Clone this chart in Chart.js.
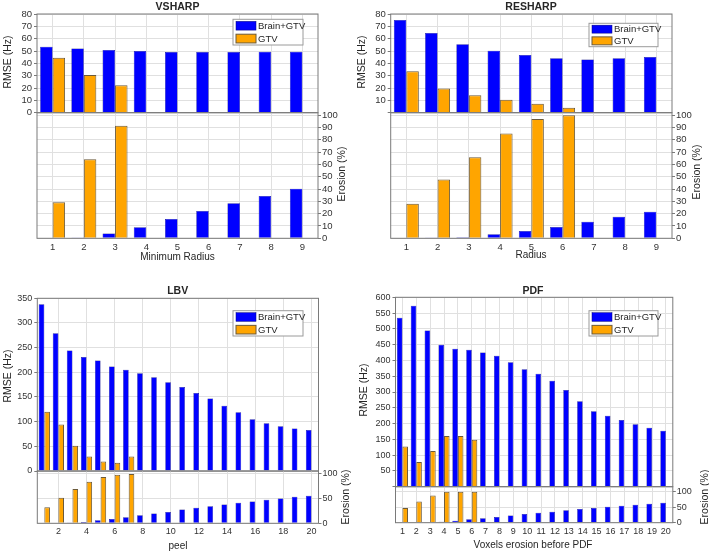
<!DOCTYPE html>
<html>
<head>
<meta charset="utf-8">
<script src="https://cdn.jsdelivr.net/npm/chart.js@4.4.0/dist/chart.umd.min.js"></script>
<style>
    html, body { margin: 0; padding: 0; background: #ffffff; }
    #page { position: relative; width: 709px; height: 552px; overflow: hidden; }
    #page canvas { position: absolute; left: 0; top: 0; }
</style>
</head>
<body>
<div id="page"></div>
<script>
// Datos
const vsharpLabels = ['1', '2', '3', '4', '5', '6', '7', '8', '9'];
const vsharpRmseBrain = [53.5, 52.0, 50.8, 50.0, 49.3, 49.3, 49.3, 49.5, 49.5];
const vsharpRmseGtv = [44.5, 30.5, 22.3, null, null, null, null, null, null];
const vsharpErosionBrain = [0, 0.7, 3.8, 8.9, 15.7, 22.2, 28.4, 34.3, 40.3];
const vsharpErosionGtv = [29.3, 64.2, 91.4, null, null, null, null, null, null];

const resharpLabels = ['1', '2', '3', '4', '5', '6', '7', '8', '9'];
const resharpRmseBrain = [75.1, 64.6, 55.5, 50.2, 46.8, 44.1, 43.2, 44.1, 45.1];
const resharpRmseGtv = [33.5, 19.7, 14.2, 10.5, 7.3, 4.0, null, null, null];
const resharpErosionBrain = [0, 0.2, 0.8, 3.2, 5.9, 9.2, 13.5, 17.6, 21.6];
const resharpErosionGtv = [28.1, 47.8, 65.9, 85.1, 96.8, 100, null, null, null];

const lbvLabels = ['1', '2', '3', '4', '5', '6', '7', '8', '9', '10',
                   '11', '12', '13', '14', '15', '16', '17', '18', '19', '20'];
const lbvTickLabels = ['2', '4', '6', '8', '10', '12', '14', '16', '18', '20'];
const lbvRmseBrain = [338, 279, 244, 231, 224, 212, 205, 198, 190, 180,
                      170, 158, 147, 132, 119, 105, 96.6, 90.6, 86.3, 83.3];
const lbvRmseGtv = [120, 94, 51, 29.5, 19.5, 16.5, 29.5, null, null, null,
                    null, null, null, null, null, null, null, null, null, null];
const lbvErosionBrain = [0, 0, 0.7, 2.7, 6.0, 8.8, 12.2, 16.3, 19.7, 23.1,
                         27.9, 31.3, 34.7, 38.1, 41.5, 44.2, 47.6, 50.3, 53.7, 55.8];
const lbvErosionGtv = [32.7, 51.7, 69.4, 84.4, 93.9, 98.6, 100, null, null, null,
                       null, null, null, null, null, null, null, null, null, null];

const pdfLabels = ['1', '2', '3', '4', '5', '6', '7', '8', '9', '10',
                   '11', '12', '13', '14', '15', '16', '17', '18', '19', '20'];
const pdfRmseBrain = [535, 573, 495, 450, 437, 434, 425, 415, 394, 372,
                      358, 336, 306, 271, 239, 225, 211, 198, 187, 177];
const pdfRmseGtv = [127, 78, 113, 161, 161, 149, null, null, null, null,
                    null, null, null, null, null, null, null, null, null, null];
const pdfErosionBrain = [0, 0, 1, 3, 6.5, 11, 14.5, 18.5, 23.5, 28,
                         32, 35.5, 40, 44, 47.5, 51.5, 55, 58, 61, 64];
const pdfErosionGtv = [47, 68, 88, 100, 100, 100, null, null, null, null,
                       null, null, null, null, null, null, null, null, null, null];

// Estilos
const W = 709, H = 552;
const BLUE = '#0000ff', BLUE_EDGE = '#00007a';
const ORANGE = '#ffa500', ORANGE_EDGE = '#6b5a3a';
const GRID = '#e0e0e0', AXIS = '#7a7a7a', TICK = '#333333', TEXT = '#262626';
const FONT = "'Liberation Sans', Arial, Helvetica, sans-serif";

Chart.defaults.font.family = FONT;

// Paneles: posicion de cada area de trazado (coordenadas de la pagina)
const panels = [
    {
        title: 'VSHARP', xlabel: 'Minimum Radius',
        labels: vsharpLabels, tickLabels: vsharpLabels,
        rmseBrain: vsharpRmseBrain, rmseGtv: vsharpRmseGtv,
        erosionBrain: vsharpErosionBrain, erosionGtv: vsharpErosionGtv,
        x0: 37, x1: 318, top: [14, 112.7], bottom: [112.7, 238.3],
        rmseAxis: { max: 80, step: 10, hideZero: false },
        erosionAxis: { max: 102, step: 10 },
        tickSize: 9.5,
        legend: { x: 233, y: 19.3, w: 70, h: 25.7 },
        titlePos: [177.5, 7], ylabelPos: [8, 62], xlabelPos: [177.5, 257.5], y2labelPos: [342, 174]
    },
    {
        title: 'RESHARP', xlabel: 'Radius',
        labels: resharpLabels, tickLabels: resharpLabels,
        rmseBrain: resharpRmseBrain, rmseGtv: resharpRmseGtv,
        erosionBrain: resharpErosionBrain, erosionGtv: resharpErosionGtv,
        x0: 390.7, x1: 672, top: [14, 112.7], bottom: [112.7, 238.3],
        rmseAxis: { max: 80, step: 10, hideZero: true },
        erosionAxis: { max: 102, step: 10 },
        tickSize: 9.5,
        legend: { x: 589, y: 23.3, w: 69, h: 23.4 },
        titlePos: [531, 7], ylabelPos: [362, 62], xlabelPos: [531, 255], y2labelPos: [697, 172]
    },
    {
        title: 'LBV', xlabel: 'peel',
        labels: lbvLabels, tickLabels: lbvTickLabels,
        rmseBrain: lbvRmseBrain, rmseGtv: lbvRmseGtv,
        erosionBrain: lbvErosionBrain, erosionGtv: lbvErosionGtv,
        x0: 37.3, x1: 318.5, top: [298.3, 471], bottom: [471, 523.3],
        rmseAxis: { max: 350, step: 50, hideZero: false },
        erosionAxis: { max: 106, step: 50 },
        tickSize: 9,
        legend: { x: 233, y: 310.7, w: 70, h: 25.3 },
        titlePos: [177.7, 291], ylabelPos: [8, 376], xlabelPos: [178, 546], y2labelPos: [346, 497]
    },
    {
        title: 'PDF', xlabel: 'Voxels erosion before PDF',
        labels: pdfLabels, tickLabels: pdfLabels,
        rmseBrain: pdfRmseBrain, rmseGtv: pdfRmseGtv,
        erosionBrain: pdfErosionBrain, erosionGtv: pdfErosionGtv,
        x0: 395.5, x1: 672.8, top: [297.3, 486.7], bottom: [486.7, 522.7],
        rmseAxis: { max: 600, step: 50, hideZero: true },
        erosionAxis: { max: 116, step: 50 },
        tickSize: 9,
        legend: { x: 589, y: 310.7, w: 69, h: 25.3 },
        titlePos: [533, 291], ylabelPos: [364, 390], xlabelPos: [533, 545], y2labelPos: [705, 497]
    }
];

// Marco de los ejes
const framePlugin = {
    id: 'frame',
    afterDatasetsDraw(chart) {
        const { ctx, chartArea: a } = chart;
        ctx.save();
        ctx.strokeStyle = AXIS;
        ctx.lineWidth = 1;
        ctx.strokeRect(a.left, a.top, a.right - a.left, a.bottom - a.top);
        ctx.restore();
    }
};

// Leyenda dentro del area de trazado (estilo MATLAB)
const boxLegendPlugin = {
    id: 'boxLegend',
    afterDraw(chart, args, opts) {
        if (!opts.box) return;
        const { ctx } = chart;
        const b = opts.box;
        ctx.save();
        ctx.fillStyle = '#ffffff';
        ctx.fillRect(b.x, b.y, b.w, b.h);
        ctx.strokeStyle = '#9a9a9a';
        ctx.lineWidth = 1;
        ctx.strokeRect(b.x, b.y, b.w, b.h);
        const rowH = b.h / 2;
        chart.data.datasets.forEach((ds, i) => {
            const cy = b.y + rowH * i + rowH / 2;
            const sh = rowH * 0.68;
            ctx.fillStyle = ds.backgroundColor;
            ctx.fillRect(b.x + 3, cy - sh / 2, 20, sh);
            ctx.strokeStyle = ds.borderColor;
            ctx.lineWidth = ds.borderWidth;
            ctx.strokeRect(b.x + 3, cy - sh / 2, 20, sh);
            ctx.fillStyle = TEXT;
            ctx.font = '9.5px ' + FONT;
            ctx.textAlign = 'left';
            ctx.textBaseline = 'middle';
            ctx.fillText(ds.label, b.x + 25, cy + 0.5);
        });
        ctx.restore();
    }
};

// Titulos y etiquetas de ejes
const figTextPlugin = {
    id: 'figText',
    afterDraw(chart, args, opts) {
        const { ctx } = chart;
        (opts.items || []).forEach(t => {
            ctx.save();
            ctx.font = t.font;
            ctx.fillStyle = TEXT;
            ctx.textAlign = 'center';
            ctx.textBaseline = 'middle';
            ctx.translate(t.x, t.y);
            if (t.rotate) ctx.rotate(-Math.PI / 2);
            ctx.fillText(t.text, 0, 0);
            ctx.restore();
        });
    }
};

function addSubplot(p, part) {
    const page = document.getElementById('page');
    const canvas = document.createElement('canvas');
    canvas.width = W;
    canvas.height = H;
    page.appendChild(canvas);

    const isTop = part === 'top';
    const [yTop, yBot] = isTop ? p.top : p.bottom;
    const yAxisW = 36, xAxisH = 20;
    const padding = isTop
        ? { left: p.x0 - yAxisW, right: W - p.x1, top: yTop, bottom: H - yBot }
        : { left: p.x0, right: W - p.x1 - yAxisW, top: yTop, bottom: H - yBot - xAxisH };
    const yRange = isTop ? p.rmseAxis : p.erosionAxis;
    const showTick = i => p.tickLabels.includes(p.labels[i]);

    const texts = isTop
        ? [
            { text: p.title, x: p.titlePos[0], y: p.titlePos[1], font: 'bold 10.5px ' + FONT },
            { text: 'RMSE (Hz)', x: p.ylabelPos[0], y: p.ylabelPos[1], rotate: true, font: '10.5px ' + FONT }
        ]
        : [
            { text: p.xlabel, x: p.xlabelPos[0], y: p.xlabelPos[1], font: '10px ' + FONT },
            { text: 'Erosion (%)', x: p.y2labelPos[0], y: p.y2labelPos[1], rotate: true, font: '10.5px ' + FONT }
        ];

    new Chart(canvas, {
        type: 'bar',
        data: {
            labels: p.labels,
            datasets: [{
                label: 'Brain+GTV',
                data: isTop ? p.rmseBrain : p.erosionBrain,
                backgroundColor: BLUE,
                borderColor: BLUE_EDGE,
                borderWidth: 0.5
            }, {
                label: 'GTV',
                data: isTop ? p.rmseGtv : p.erosionGtv,
                backgroundColor: ORANGE,
                borderColor: ORANGE_EDGE,
                borderWidth: 1
            }]
        },
        options: {
            responsive: false,
            animation: false,
            events: [],
            layout: { padding: padding },
            datasets: {
                bar: { categoryPercentage: 0.8, barPercentage: 1.0 }
            },
            plugins: {
                legend: { display: false },
                tooltip: { enabled: false },
                boxLegend: { box: isTop ? p.legend : null },
                figText: { items: texts }
            },
            scales: {
                x: {
                    type: 'category',
                    offset: true,
                    border: { display: false },
                    grid: {
                        offset: false,
                        drawTicks: false,
                        color: ctx => showTick(ctx.index) ? GRID : 'rgba(0,0,0,0)'
                    },
                    ticks: {
                        display: !isTop,
                        autoSkip: false,
                        maxRotation: 0,
                        padding: 3,
                        color: TICK,
                        font: { size: p.tickSize },
                        callback: (v, i) => showTick(i) ? p.labels[i] : ''
                    },
                    afterFit: s => { s.height = isTop ? 0 : xAxisH; }
                },
                y: {
                    position: isTop ? 'left' : 'right',
                    min: 0,
                    max: yRange.max,
                    border: { display: false },
                    grid: { color: GRID, drawTicks: true, tickLength: 3, tickColor: AXIS },
                    ticks: {
                        stepSize: yRange.step,
                        includeBounds: false,
                        autoSkip: false,
                        padding: isTop ? 2 : 1,
                        color: TICK,
                        font: { size: p.tickSize },
                        callback: v => (v === 0 && yRange.hideZero) ? '' : v
                    },
                    afterFit: s => { s.width = yAxisW; }
                }
            }
        },
        plugins: [framePlugin, boxLegendPlugin, figTextPlugin]
    });
}

panels.forEach(p => {
    addSubplot(p, 'top');
    addSubplot(p, 'bottom');
});
</script>
</body>
</html>
